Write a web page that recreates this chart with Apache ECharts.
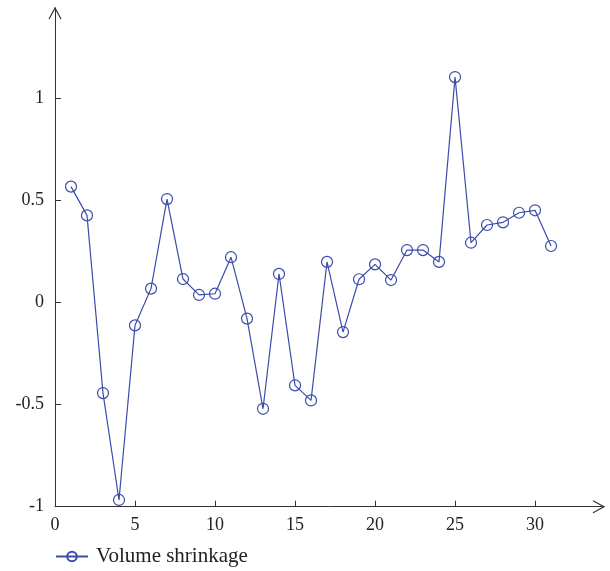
<!DOCTYPE html>
<html>
<head>
<meta charset="utf-8">
<script src="https://cdn.jsdelivr.net/npm/echarts@6/dist/echarts.min.js"></script>
<style>
  html, body { margin: 0; padding: 0; background: #fff; }
  #chart { width: 610px; height: 571px; }
</style>
</head>
<body>
<div id="chart"></div>
<script>
// Sample index (1..31) and measured volume shrinkage at each sample
const samples = [1,2,3,4,5,6,7,8,9,10,11,12,13,14,15,16,17,18,19,20,21,22,23,24,25,26,27,28,29,30,31];
const shrinkage = [0.569, 0.428, -0.443, -0.967, -0.111, 0.069, 0.508, 0.116, 0.038, 0.044,
                   0.223, -0.078, -0.520, 0.141, -0.405, -0.479, 0.200, -0.144, 0.115, 0.188,
                   0.111, 0.258, 0.258, 0.200, 1.106, 0.294, 0.381, 0.394, 0.441, 0.453, 0.278];
const xTicks = [0, 5, 10, 15, 20, 25, 30];
const yTicks = [-1, -0.5, 0, 0.5, 1];
const seriesName = 'Volume shrinkage';

const lineColor = '#3a4ca8';
const axisColor = '#333';
const font = '"Liberation Serif", "DejaVu Serif", serif';

const chart = echarts.init(document.getElementById('chart'), null, { renderer: 'canvas' });

const option = {
  animation: false,
  backgroundColor: '#fff',
  grid: { left: 55, right: 6, top: 8, bottom: 64.3, containLabel: false },
  legend: {
    data: [seriesName],
    left: 55, top: 546, padding: 0,
    itemWidth: 32, itemHeight: 12, itemGap: 11,
    textStyle: { fontFamily: font, fontSize: 21, color: '#222', padding: [0, 0, 0, 3] }
  },
  xAxis: {
    type: 'value',
    min: 0, max: 34.31,
    splitLine: { show: false },
    axisLine: { onZero: false, lineStyle: { color: axisColor, width: 1 } },
    axisTick: { inside: true, length: 6, customValues: xTicks.slice(1), lineStyle: { color: axisColor } },
    axisLabel: { customValues: xTicks, margin: 10, fontFamily: font, fontSize: 18, color: '#222' }
  },
  yAxis: {
    type: 'value',
    min: -1, max: 1.4446,
    splitLine: { show: false },
    axisLine: { onZero: false, lineStyle: { color: axisColor, width: 1 } },
    axisTick: { inside: true, length: 6, customValues: yTicks.slice(1), lineStyle: { color: axisColor } },
    axisLabel: { customValues: yTicks, margin: 11, fontFamily: font, fontSize: 18, color: '#222' }
  },
  series: [{
    name: seriesName,
    type: 'line',
    data: samples.map((s, i) => [s, shrinkage[i]]),
    symbol: 'circle',
    symbolSize: 11,
    itemStyle: { color: 'rgba(0,0,0,0)', borderColor: lineColor, borderWidth: 1.2 },
    lineStyle: { color: lineColor, width: 1.2 }
  }]
};
chart.setOption(option);

// Open chevron arrowheads at the far ends of both axes
const xEnd = chart.convertToPixel({ gridIndex: 0 }, [34.31, -1]);
const yEnd = chart.convertToPixel({ gridIndex: 0 }, [0, 1.4446]);
chart.setOption({
  graphic: [
    {
      type: 'polyline',
      shape: { points: [[xEnd[0] - 11, xEnd[1] - 6], [xEnd[0], xEnd[1]], [xEnd[0] - 11, xEnd[1] + 6]] },
      style: { stroke: axisColor, lineWidth: 1.2, fill: null }
    },
    {
      type: 'polyline',
      shape: { points: [[yEnd[0] - 6, yEnd[1] + 11], [yEnd[0], yEnd[1]], [yEnd[0] + 6, yEnd[1] + 11]] },
      style: { stroke: axisColor, lineWidth: 1.2, fill: null }
    }
  ]
});
</script>
</body>
</html>
